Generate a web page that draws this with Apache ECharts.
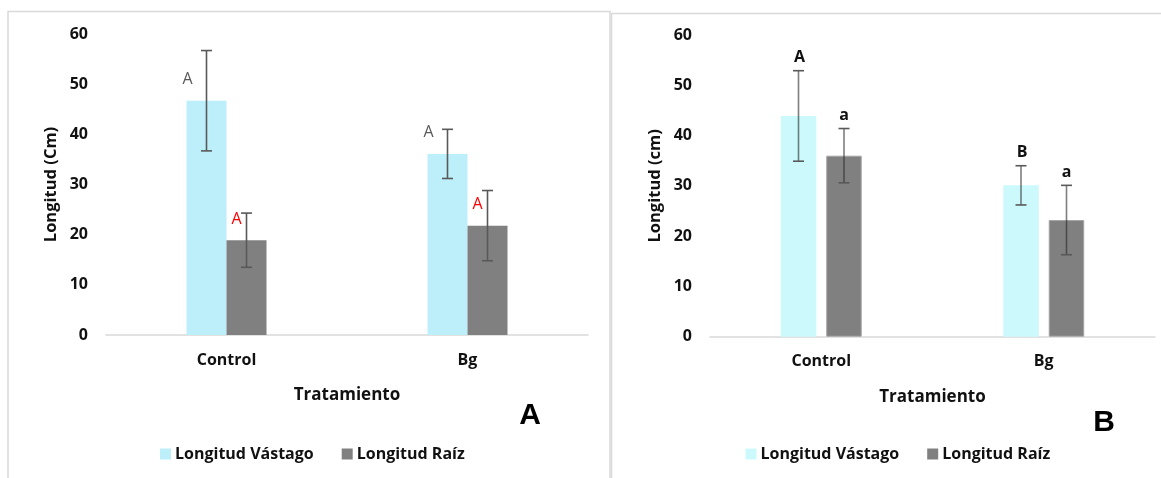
<!DOCTYPE html>
<html>
<head>
<meta charset="utf-8">
<script src="https://cdn.jsdelivr.net/npm/echarts@6/dist/echarts.min.js"></script>
<style>
html,body{margin:0;padding:0;background:#fff;}
#chart{width:1161px;height:478px;}
</style>
</head>
<body>
<div id="chart"></div>
<script>
// ---------- data ----------
const categories = ['Control', 'Bg'];
const seriesNames = ['Longitud Vástago', 'Longitud Raíz'];
const yTicks = [0, 10, 20, 30, 40, 50, 60];

// Panel A
const vastagoA = [46.7, 36.1];
const vastagoErrA = [10.0, 4.9];
const raizA = [18.9, 21.8];
const raizErrA = [5.4, 7.0];
const lettersVastagoA = ['A', 'A'];
const lettersRaizA = ['A', 'A'];

// Panel B
const vastagoB = [43.9, 30.1];
const vastagoErrB = [9.0, 3.9];
const raizB = [36.0, 23.2];
const raizErrB = [5.4, 6.9];
const lettersVastagoB = ['A', 'B'];
const lettersRaizB = ['a', 'a'];

const panelTitles = ['A', 'B'];
const yNames = ['Longitud (Cm)', 'Longitud (cm)'];
const xName = 'Tratamiento';

// ---------- styles ----------
const FONT = '"Open Sans", Lato, sans-serif';
const colVastagoA = '#bceffa';
const colVastagoB = '#ccf9fb';
const colRaiz = '#808080';
const TXT = '#111';

function errSeries(gi, values, errs, letters, offset, labelCfg) {
  return {
    type: 'custom',
    xAxisIndex: gi, yAxisIndex: gi,
    z: 10,
    silent: true,
    clip: false,
    data: values.map((v, i) => [i, v, errs[i]]),
    encode: { x: 0, y: 1 },
    renderItem: function (params, api) {
      const i = api.value(0), v = api.value(1), e = api.value(2);
      const base = api.coord([i, v]);
      const x = base[0] + offset;
      const yTop = api.coord([i, v + e])[1];
      const yBot = api.coord([i, v - e])[1];
      const cap = 5.5;
      const children = [
        { type: 'line', shape: { x1: x, y1: yTop, x2: x, y2: yBot }, style: { stroke: labelCfg.stem, lineWidth: 1.6 } },
        { type: 'line', shape: { x1: x - cap, y1: yTop, x2: x + cap, y2: yTop }, style: { stroke: labelCfg.cap, lineWidth: 1.6 } },
        { type: 'line', shape: { x1: x - cap, y1: yBot, x2: x + cap, y2: yBot }, style: { stroke: labelCfg.cap, lineWidth: 1.6 } }
      ];
      let lx, ly;
      if (labelCfg.mode === 'bar') { lx = x + labelCfg.dx; ly = base[1] + labelCfg.dy; }
      else { lx = x + labelCfg.dx; ly = yTop + labelCfg.dy; }
      children.push({
        type: 'text',
        style: {
          text: letters[params.dataIndex], x: lx, y: ly,
          fill: labelCfg.color, font: labelCfg.font,
          align: 'center', verticalAlign: 'middle'
        }
      });
      return { type: 'group', children: children };
    }
  };
}

function xAxis(gi) {
  return {
    type: 'category', gridIndex: gi, data: categories,
    axisLine: { lineStyle: { color: '#d9d9d9', width: 1.5 } },
    axisTick: { show: false },
    axisLabel: { color: TXT, fontFamily: FONT, fontWeight: 'bold', fontSize: 16, margin: 17 },
    name: xName, nameLocation: 'middle', nameGap: 52,
    nameTextStyle: { color: TXT, fontFamily: FONT, fontWeight: 'bold', fontSize: 17 }
  };
}
function yAxis(gi, gap) {
  return {
    type: 'value', gridIndex: gi, min: yTicks[0], max: yTicks[yTicks.length - 1], interval: 10,
    axisLine: { show: false }, axisTick: { show: false }, splitLine: { show: false },
    axisLabel: { color: TXT, fontFamily: FONT, fontWeight: 'bold', fontSize: 16, margin: 18 },
    name: yNames[gi], nameLocation: 'middle', nameGap: gap, nameRotate: 90,
    nameTextStyle: { color: TXT, fontFamily: FONT, fontWeight: 'bold', fontSize: 16.5 }
  };
}
function legend(gi, left, vColor) {
  return {
    left: left, top: 441, itemWidth: 11, itemHeight: 11, itemGap: 28,
    icon: 'rect',
    textStyle: { color: TXT, fontFamily: FONT, fontWeight: 'bold', fontSize: 16, padding: [0, 0, 0, -1] },
    data: [
      { name: seriesNames[0], itemStyle: { color: vColor } },
      { name: seriesNames[1], itemStyle: { color: colRaiz } }
    ],
    selectedMode: false
  };
}

const option = {
  animation: false,
  backgroundColor: '#fff',
  grid: [
    { left: 106, right: 1161 - 588, top: 34, bottom: 478 - 335 },
    { left: 710, right: 1161 - 1155, top: 35, bottom: 478 - 336.7 }
  ],
  xAxis: [xAxis(0), xAxis(1)],
  yAxis: [yAxis(0, 46), yAxis(1, 46)],
  legend: [legend(0, 155, colVastagoA), legend(1, 740.5, colVastagoB)],
  series: [
    { name: seriesNames[0], type: 'bar', xAxisIndex: 0, yAxisIndex: 0, data: vastagoA, barWidth: 40, barGap: '0%', itemStyle: { color: colVastagoA } },
    { name: seriesNames[1], type: 'bar', xAxisIndex: 0, yAxisIndex: 0, data: raizA, barWidth: 40, barGap: '0%', itemStyle: { color: colRaiz } },
    { name: seriesNames[0], type: 'bar', xAxisIndex: 1, yAxisIndex: 1, data: vastagoB, barWidth: 35.5, barGap: '28%', itemStyle: { color: colVastagoB } },
    { name: seriesNames[1], type: 'bar', xAxisIndex: 1, yAxisIndex: 1, data: raizB, barWidth: 35.5, barGap: '28%', itemStyle: { color: colRaiz, borderColor: '#a6a6a6', borderWidth: 1 } },
    errSeries(0, vastagoA, vastagoErrA, lettersVastagoA, -20, { mode: 'bar', dx: -19, dy: -21, color: '#595959', font: '16px ' + FONT, stem: '#595959', cap: '#595959' }),
    errSeries(0, raizA, raizErrA, lettersRaizA, 20, { mode: 'bar', dx: -10, dy: -21, color: '#ff0000', font: '16px ' + FONT, stem: '#595959', cap: '#595959' }),
    errSeries(1, vastagoB, vastagoErrB, lettersVastagoB, -22.75, { mode: 'err', dx: 1, dy: -13, color: TXT, font: 'bold 16px ' + FONT, stem: 'rgba(40,40,40,0.6)', cap: '#595959' }),
    errSeries(1, raizB, raizErrB, lettersRaizB, 22.75, { mode: 'err', dx: 0, dy: -13, color: TXT, font: 'bold 16px ' + FONT, stem: 'rgba(40,40,40,0.6)', cap: '#595959' })
  ],
  graphic: [
    { type: 'rect', shape: { x: 8, y: 11.5, width: 602, height: 480 }, style: { fill: 'none', stroke: '#d9d9d9', lineWidth: 1.5 }, z: -1 },
    { type: 'rect', shape: { x: 611.5, y: 13.5, width: 570, height: 480 }, style: { fill: 'none', stroke: '#d9d9d9', lineWidth: 1.5 }, z: -1 },
    { type: 'text', x: 530, y: 416, style: { text: panelTitles[0], font: 'bold 30px "Liberation Sans", Arial, sans-serif', fill: '#000', align: 'center', verticalAlign: 'middle' } },
    { type: 'text', x: 1104, y: 423, style: { text: panelTitles[1], font: 'bold 30px "Liberation Sans", Arial, sans-serif', fill: '#000', align: 'center', verticalAlign: 'middle' } }
  ]
};

const chart = echarts.init(document.getElementById('chart'), null, { renderer: 'canvas' });
chart.setOption(option);
</script>
</body>
</html>
